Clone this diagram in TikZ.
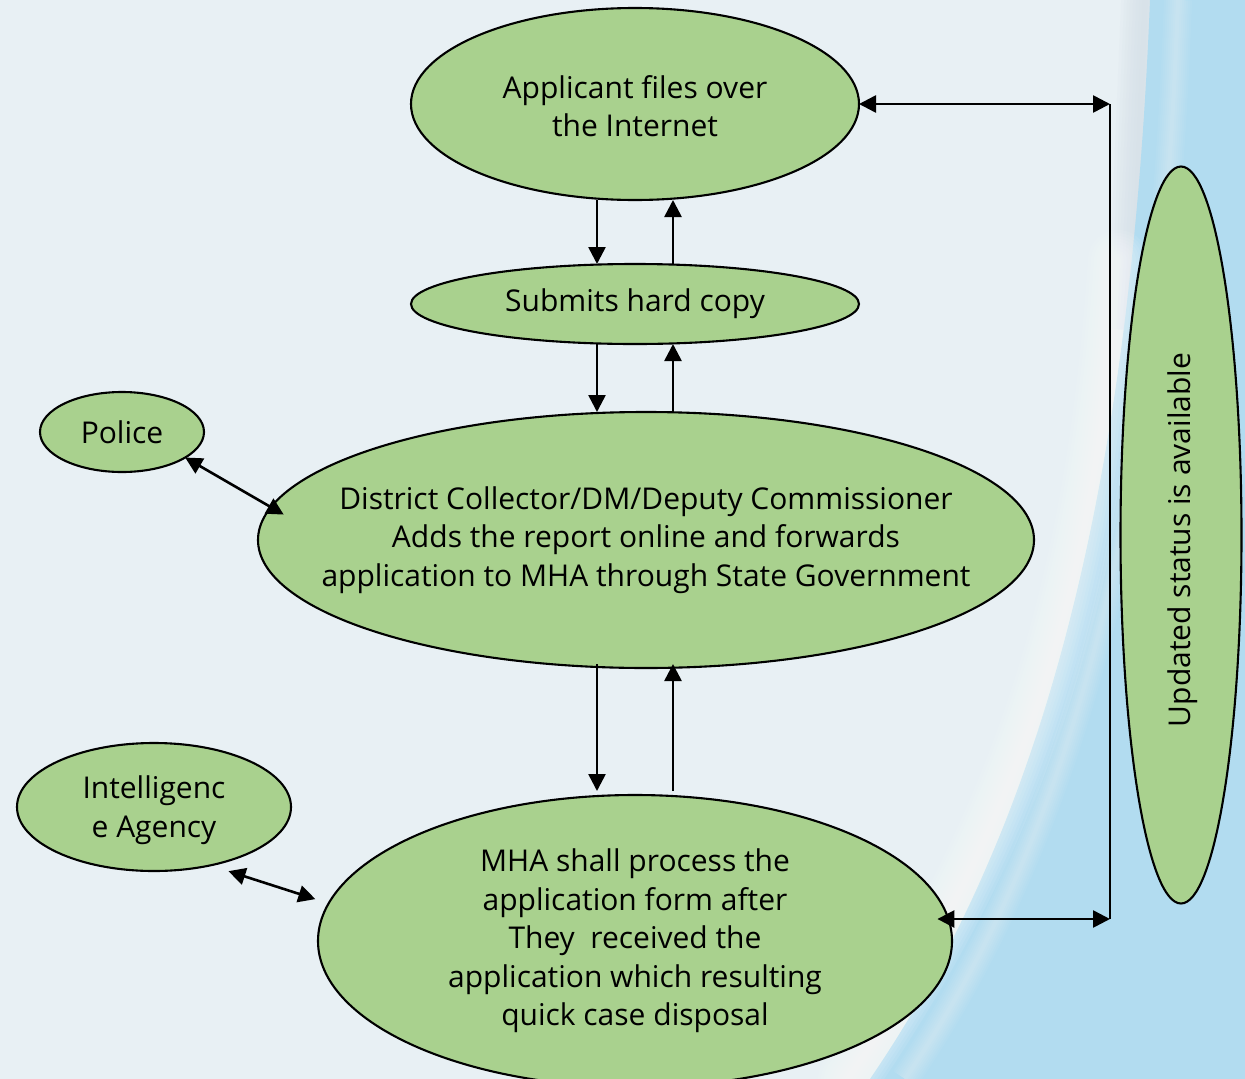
\documentclass[tikz,border=0pt]{standalone}
\usepackage{fontspec}
\setmainfont{Open Sans}
\usetikzlibrary{shapes.geometric,arrows.meta,calc}
\definecolor{bgc}{HTML}{E8F0F4}
\definecolor{bluec}{HTML}{B2DCF0}
\definecolor{greyband}{HTML}{D3DEE6}
\definecolor{greenc}{HTML}{A9D18E}
\tikzset{
  bub/.style={ellipse, draw=black, line width=2.1pt, fill=greenc, inner sep=0pt, outer sep=0pt},
  lbl/.style={align=center, font=\fontsize{30}{38.5}\selectfont, inner sep=0pt},
  arr/.style={line width=2.6pt, -{Triangle[length=17pt,width=17pt]}},
  dbl/.style={line width=2.6pt, {Triangle[length=17pt,width=17pt]}-{Triangle[length=17pt,width=17pt]}},
}
\begin{document}
\begin{tikzpicture}[x=1pt,y=-1pt]
\useasboundingbox (0,0) rectangle (1245,1079);
\clip (0,0) rectangle (1245,1079);
% background
\fill[bgc] (0,0) rectangle (1245,1079);
\foreach \w in {6,12,...,48} {
  \draw[greyband, line width=\w pt, opacity=0.12] (1146,-20) .. controls (1140,120) and (1136,220) .. (1132,330);
}
\fill[bluec] (1150,0) .. controls (1130,500) and (1040,830) .. (870,1079) -- (1245,1079) -- (1245,0) -- cycle;
\foreach \w in {6,12,...,60} {
  \draw[white, line width=\w pt, opacity=0.08, line cap=round] (1118,260) .. controls (1095,600) and (1018,830) .. (848,1079);
}
\foreach \w in {4,8,...,28} {
  \draw[white, line width=\w pt, opacity=0.05] (1178,0) .. controls (1160,500) and (1075,830) .. (905,1079);
}
% ellipses
\node[bub, minimum width=448pt, minimum height=192pt] (app) at (635,104) {};
\node[lbl] (appT) at ([yshift=-2pt]app.center) {Applicant files over\\the Internet};
\node[bub, minimum width=448pt, minimum height=80pt] (sub) at (635,304) {};
\node[lbl] (subT) at (sub) {Submits hard copy};
\node[bub, minimum width=776pt, minimum height=256pt] (dc) at (646,540) {};
\node[lbl] (dcT) at (dc) {District Collector/DM/Deputy Commissioner\\Adds the report online and forwards\\application to MHA through State Government};
\node[bub, minimum width=634pt, minimum height=292pt] (mha) at (635,941) {};
\node[lbl] (mhaT) at (mha) {MHA shall process the\\application form after\\They\ \ received the\\application which resulting\\quick case disposal};
\node[bub, minimum width=164pt, minimum height=80pt] (pol) at (122,432) {};
\node[lbl] (polT) at (pol) {Police};
\node[bub, minimum width=274pt, minimum height=128pt] (int) at (154,807) {};
\node[lbl] (intT) at ([yshift=-3pt]int.center) {Intelligenc\\e Agency};
\node[bub, minimum width=121pt, minimum height=737pt] (upd) at (1181,535) {};
\node[lbl, rotate=90] (updT) at (1183,540) {Updated status is available};
% vertical arrows
\draw[arr] ([xshift=-38pt]app.south) -- ([xshift=-38pt]sub.north);
\draw[arr] ([xshift=38pt]sub.north) -- ([xshift=38pt]app.south);
\draw[arr] ([xshift=-38pt]sub.south) -- ([xshift=-38pt]sub.south |- dc.north);
\draw[arr] ([xshift=38pt]sub.south |- dc.north) -- ([xshift=38pt]sub.south);
\draw[arr, shorten <=-4pt, shorten >=4pt] ([xshift=-38pt]mha.north |- dc.south) -- ([xshift=-38pt]mha.north);
\draw[arr, shorten <=4pt, shorten >=-4pt] ([xshift=38pt]mha.north) -- ([xshift=38pt]mha.north |- dc.south);
% side arrows
\draw[dbl, shorten >=-14.7pt] (pol.-22.6) -- (dc.175.5);
\draw[dbl, shorten <=19pt, shorten >=14pt] (int.-46) -- (mha.173.9);
% status loop
\coordinate (c1) at (1110,104);
\coordinate (c2) at (1110,919);
\draw[dbl] (app.east) -- (c1);
\draw[line width=2.6pt] (c1) -- (c2);
\draw[dbl, shorten <=-11pt] (c2 -| mha.4) -- (c2);
\end{tikzpicture}
\end{document}
